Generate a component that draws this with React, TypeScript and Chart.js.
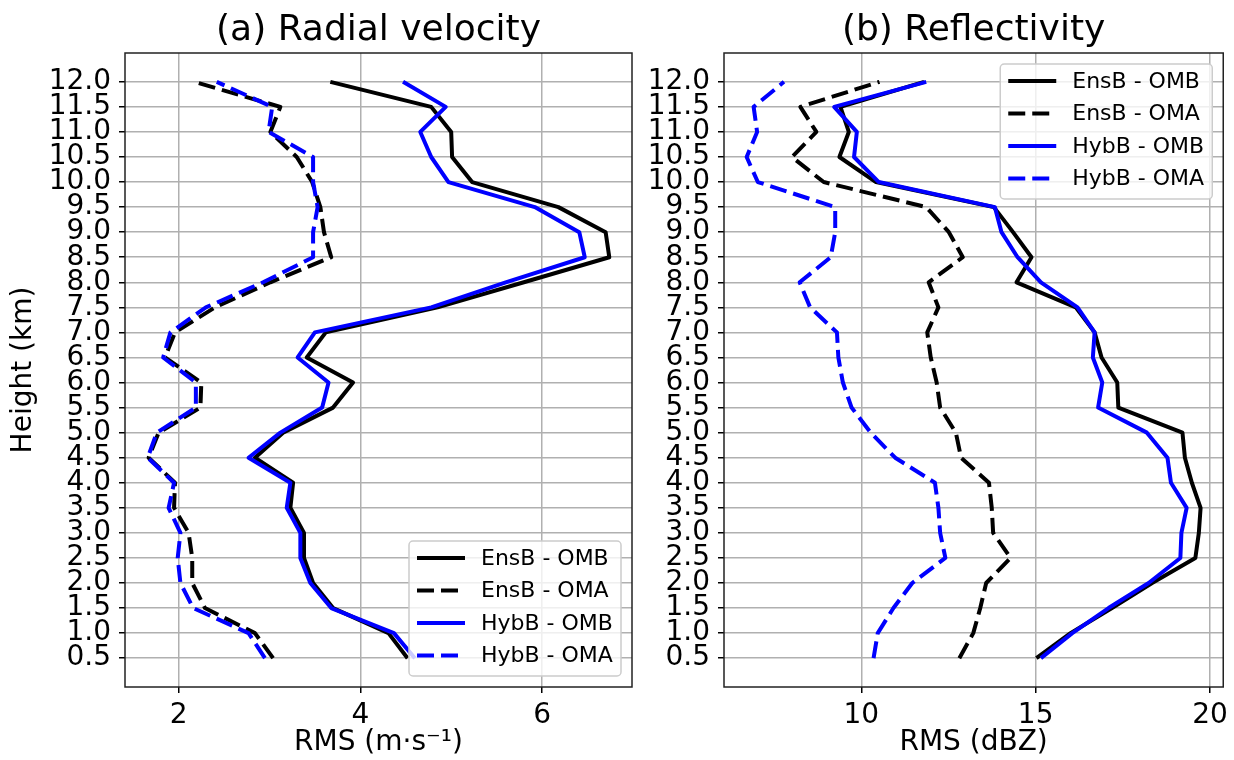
import React, { useEffect, useRef } from "react";
import { Chart, registerables } from "chart.js";

Chart.register(...registerables);
Chart.defaults.font.family = '"DejaVu Sans", sans-serif';
Chart.defaults.color = "#000";

// Heights (km), bottom to top
const heights = [0.5, 1.0, 1.5, 2.0, 2.5, 3.0, 3.5, 4.0, 4.5, 5.0, 5.5, 6.0, 6.5, 7.0, 7.5, 8.0, 8.5, 9.0, 9.5, 10.0, 10.5, 11.0, 11.5, 12.0];
const heightLabels = ["0.5", "1.0", "1.5", "2.0", "2.5", "3.0", "3.5", "4.0", "4.5", "5.0", "5.5", "6.0", "6.5", "7.0", "7.5", "8.0", "8.5", "9.0", "9.5", "10.0", "10.5", "11.0", "11.5", "12.0"];

const seriesNames = ["EnsB - OMB", "EnsB - OMA", "HybB - OMB", "HybB - OMA"];

// (a) Radial velocity RMS (m/s)
const rvEnsOMB = [4.52, 4.31, 3.70, 3.48, 3.38, 3.38, 3.23, 3.26, 2.84, 3.15, 3.70, 3.92, 3.41, 3.62, 4.85, 5.80, 6.74, 6.70, 6.18, 5.23, 5.01, 5.00, 4.78, 3.67];
const rvEnsOMA = [3.04, 2.84, 2.29, 2.15, 2.15, 2.11, 1.95, 1.96, 1.67, 1.78, 2.24, 2.25, 1.85, 1.96, 2.40, 3.01, 3.68, 3.60, 3.56, 3.47, 3.30, 3.01, 3.12, 2.17];
const rvHybOMB = [4.60, 4.37, 3.68, 3.45, 3.34, 3.34, 3.19, 3.23, 2.77, 3.12, 3.58, 3.65, 3.31, 3.50, 4.78, 5.60, 6.47, 6.41, 5.92, 4.97, 4.78, 4.66, 4.94, 4.47];
const rvHybOMA = [2.95, 2.77, 2.16, 2.02, 1.99, 2.02, 1.89, 1.95, 1.66, 1.76, 2.19, 2.19, 1.83, 1.91, 2.30, 2.93, 3.48, 3.48, 3.53, 3.48, 3.48, 2.99, 3.03, 2.42];
const rvXTicks = [2, 4, 6];

// (b) Reflectivity RMS (dBZ)
const zEnsOMB = [15.02, 16.0, 17.19, 18.34, 19.58, 19.68, 19.73, 19.48, 19.28, 19.21, 17.37, 17.34, 16.89, 16.69, 16.15, 14.45, 14.88, 14.35, 13.80, 10.42, 9.37, 9.64, 9.40, 11.80];
const zEnsOMA = [12.81, 13.21, 13.41, 13.58, 14.28, 13.78, 13.74, 13.66, 12.86, 12.71, 12.26, 12.16, 11.99, 11.89, 12.21, 11.93, 12.91, 12.51, 11.86, 8.92, 8.01, 8.71, 8.25, 10.52];
const zHybOMB = [15.15, 16.05, 17.09, 18.24, 19.15, 19.18, 19.33, 18.88, 18.78, 18.19, 16.79, 16.91, 16.64, 16.69, 16.20, 15.15, 14.48, 14.02, 13.83, 10.50, 9.79, 9.87, 9.22, 11.86];
const zHybOMA = [10.35, 10.47, 10.92, 11.46, 12.41, 12.26, 12.21, 12.11, 10.97, 10.27, 9.72, 9.47, 9.34, 9.30, 8.53, 8.23, 9.12, 9.25, 9.25, 7.03, 6.71, 7.01, 6.91, 7.78];
const zXTicks = [10, 15, 20];

const colors = ["#000000", "#000000", "#0000ff", "#0000ff"];
const dashes = [[], [17, 7], [], [17, 7]];

const FONT = '"DejaVu Sans", sans-serif';

const titlePlugin = {
  id: "panelTitle",
  afterDraw(chart: any, _a: any, opts: any) {
    const { ctx, chartArea } = chart;
    ctx.save();
    ctx.font = `36px ${FONT}`;
    ctx.fillStyle = "#000";
    ctx.textAlign = "center";
    ctx.textBaseline = "middle";
    ctx.fillText(opts.text, (chartArea.left + chartArea.right) / 2, 31);
    ctx.restore();
  },
};

const framePlugin = {
  id: "frame",
  afterDatasetsDraw(chart: any) {
    const { ctx, chartArea } = chart;
    ctx.save();
    ctx.strokeStyle = "#222";
    ctx.lineWidth = 1.5;
    ctx.strokeRect(chartArea.left, chartArea.top, chartArea.right - chartArea.left, chartArea.bottom - chartArea.top);
    ctx.restore();
  },
};

const legendPlugin = {
  id: "insideLegend",
  afterDatasetsDraw(chart: any, _a: any, opts: any) {
    const { ctx, chartArea } = chart;
    const pad = 11;
    const w = 212;
    const h = 135;
    const x = chartArea.right - pad - w;
    const y = opts.position === "lower right" ? chartArea.bottom - pad - h : chartArea.top + pad;
    ctx.save();
    const r = 4;
    ctx.beginPath();
    ctx.moveTo(x + r, y);
    ctx.lineTo(x + w - r, y);
    ctx.arcTo(x + w, y, x + w, y + r, r);
    ctx.lineTo(x + w, y + h - r);
    ctx.arcTo(x + w, y + h, x + w - r, y + h, r);
    ctx.lineTo(x + r, y + h);
    ctx.arcTo(x, y + h, x, y + h - r, r);
    ctx.lineTo(x, y + r);
    ctx.arcTo(x, y, x + r, y, r);
    ctx.closePath();
    ctx.fillStyle = "rgba(255,255,255,0.8)";
    ctx.fill();
    ctx.strokeStyle = "#cccccc";
    ctx.lineWidth = 1.5;
    ctx.stroke();
    chart.data.datasets.forEach((ds: any, i: number) => {
      const cy = y + 17 + i * 32.5;
      ctx.beginPath();
      ctx.setLineDash(ds.borderDash || []);
      ctx.strokeStyle = ds.borderColor;
      ctx.lineWidth = ds.borderWidth;
      ctx.moveTo(x + 8, cy);
      ctx.lineTo(x + 56, cy);
      ctx.stroke();
      ctx.setLineDash([]);
      ctx.fillStyle = "#000";
      ctx.font = `22px ${FONT}`;
      ctx.textAlign = "left";
      ctx.textBaseline = "middle";
      ctx.fillText(ds.label, x + 72, cy + 1);
    });
    ctx.restore();
  },
};

function makeDatasets(series: number[][]) {
  return series.map((vals, i) => ({
    label: seriesNames[i],
    data: vals.map((v, k) => ({ x: v, y: heights[k] })),
    borderColor: colors[i],
    backgroundColor: colors[i],
    borderDash: dashes[i],
    borderWidth: 4,
    borderJoinStyle: "round",
    pointRadius: 0,
    fill: false,
    tension: 0,
    order: 4 - i,
  }));
}

function makeConfig(p: {
  series: number[][];
  xmin: number;
  xmax: number;
  xticks: number[];
  xtitle: string;
  yWidth: number;
  yTitle: boolean;
  rightPad: number;
  title: string;
  legendPos: string;
}): any {
  return {
    type: "line",
    data: { datasets: makeDatasets(p.series) },
    plugins: [titlePlugin, framePlugin, legendPlugin],
    options: {
      animation: false,
      responsive: false,
      maintainAspectRatio: false,
      layout: { padding: { left: 0, right: p.rightPad, top: 53, bottom: 0 } },
      plugins: {
        legend: { display: false },
        tooltip: { enabled: false },
        title: { display: false },
        panelTitle: { text: p.title },
        insideLegend: { position: p.legendPos },
      },
      scales: {
        x: {
          type: "linear",
          min: p.xmin,
          max: p.xmax,
          afterBuildTicks: (s: any) => {
            s.ticks = p.xticks.map((v) => ({ value: v }));
          },
          afterFit: (s: any) => {
            s.height = 73;
          },
          border: { display: false },
          grid: { color: "#b0b0b0", lineWidth: 1.5, drawTicks: true, tickLength: 6, tickColor: "#000", tickWidth: 1.5 },
          ticks: {
            autoSkip: false,
            maxRotation: 0,
            padding: 6,
            color: "#000",
            font: { size: 28 },
            callback: (_v: any, i: number) => String(p.xticks[i]),
          },
          title: { display: true, text: p.xtitle, color: "#000", font: { size: 28 }, padding: { top: 0, bottom: 0 } },
        },
        y: {
          type: "linear",
          min: -0.075,
          max: 12.575,
          afterBuildTicks: (s: any) => {
            s.ticks = heights.map((v) => ({ value: v }));
          },
          afterFit: (s: any) => {
            s.width = p.yWidth;
          },
          border: { display: false },
          grid: { color: "#b0b0b0", lineWidth: 1.5, drawTicks: true, tickLength: 6, tickColor: "#000", tickWidth: 1.5 },
          ticks: {
            autoSkip: false,
            padding: 8,
            color: "#000",
            font: { size: 28 },
            callback: (_v: any, i: number) => heightLabels[i],
          },
          title: { display: p.yTitle, text: "Height (km)", color: "#000", font: { size: 28 }, padding: { top: 7, bottom: 0 } },
        },
      },
    },
  };
}

export default function App() {
  const refA = useRef<HTMLCanvasElement>(null);
  const refB = useRef<HTMLCanvasElement>(null);

  useEffect(() => {
    const a = new Chart(
      refA.current as HTMLCanvasElement,
      makeConfig({
        series: [rvEnsOMB, rvEnsOMA, rvHybOMB, rvHybOMA],
        xmin: 1.41,
        xmax: 6.99,
        xticks: rvXTicks,
        xtitle: "RMS (m\u00b7s\u207b\u00b9)",
        yWidth: 125,
        yTitle: true,
        rightPad: 8,
        title: "(a) Radial velocity",
        legendPos: "lower right",
      })
    );
    const b = new Chart(
      refB.current as HTMLCanvasElement,
      makeConfig({
        series: [zEnsOMB, zEnsOMA, zHybOMB, zHybOMA],
        xmin: 6.06,
        xmax: 20.38,
        xticks: zXTicks,
        xtitle: "RMS (dBZ)",
        yWidth: 84,
        yTitle: false,
        rightPad: 7,
        title: "(b) Reflectivity",
        legendPos: "upper right",
      })
    );
    return () => {
      a.destroy();
      b.destroy();
    };
  }, []);

  return (
    <div style={{ position: "fixed", left: 0, top: 0, width: 1234, height: 760, background: "#fff" }}>
      <canvas ref={refA} width={640} height={760} style={{ position: "absolute", left: 0, top: 0, width: 640, height: 760 }} />
      <canvas ref={refB} width={594} height={760} style={{ position: "absolute", left: 640, top: 0, width: 594, height: 760 }} />
    </div>
  );
}
